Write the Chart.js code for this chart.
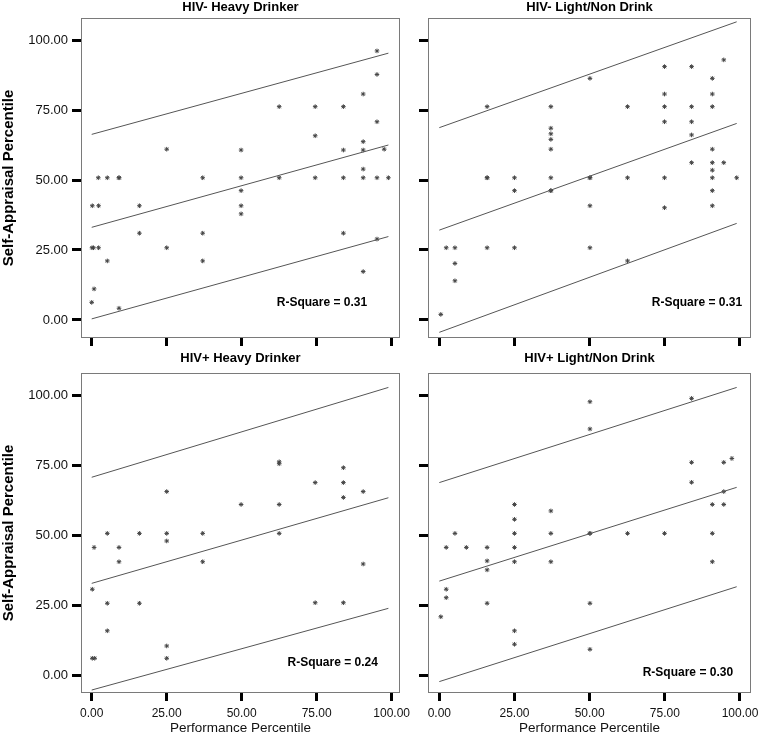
<!DOCTYPE html>
<html>
<head>
<meta charset="utf-8">
<script src="https://cdn.jsdelivr.net/npm/chart.js@4/dist/chart.umd.min.js"></script>
<style>
  body { margin: 0; background: #fff; width: 760px; height: 741px; position: relative; overflow: hidden; }
  canvas { position: absolute; }
</style>
</head>
<body>
<canvas id="p1" width="410" height="352" style="left:0;top:0"></canvas>
<canvas id="p2" width="350" height="352" style="left:410px;top:0"></canvas>
<canvas id="p3" width="410" height="396" style="left:0;top:345px"></canvas>
<canvas id="p4" width="350" height="396" style="left:410px;top:345px"></canvas>
<script>
// axis ticks
const tickVals = [0, 25, 50, 75, 100];

// HIV- Heavy Drinker
const negHeavyX = [25, 2.2, 5.2, 9.1, 9.1, 37, 0.2, 2.3, 15.9, 15.9, 37, 0.1, 0.6, 2.3, 25, 5.2, 37, 0.8, 0, 9.1,
  95.1, 95.1, 90.5, 62.5, 74.5, 83.9, 95.1, 74.5, 49.8, 83.9, 90.5, 90.5, 97.5, 49.8, 62.5, 74.5, 83.9, 90.5,
  95.1, 98.9, 90.5, 49.8, 49.8, 49.8, 83.9, 95.1, 90.5];
const negHeavyY = [61, 50.8, 50.8, 50.8, 50.8, 50.8, 40.8, 40.8, 40.8, 31, 31, 25.8, 25.8, 25.8, 25.8, 21.1, 21.1, 11.1, 6.3, 4.2,
  96.1, 87.7, 80.7, 76.2, 76.2, 76.2, 70.8, 65.8, 60.7, 60.7, 63.7, 60.7, 61, 50.8, 50.8, 50.8, 50.8, 50.8,
  50.8, 50.8, 53.9, 46.2, 40.8, 37.9, 31, 28.9, 17.3];

// HIV- Light/Non Drink
const negLightX = [15.9, 37.1, 37.1, 37.1, 37.1, 37.1, 15.9, 15.9, 25, 37.1, 25, 37.1, 37.1, 2.3, 5.2, 15.9, 25, 5.2, 5.2, 0.5,
  94.6, 74.9, 83.9, 50.1, 90.8, 74.9, 90.8, 62.6, 74.9, 83.9, 90.8, 74.9, 83.9, 83.9, 90.8, 83.9, 90.8, 90.8,
  94.6, 50.1, 50.1, 62.6, 74.9, 90.8, 98.9, 90.8, 50.1, 74.9, 90.8, 50.1, 62.6];
const negLightY = [76.2, 76.2, 68.5, 66.5, 64.5, 61, 50.8, 50.8, 50.8, 50.8, 46.2, 46.2, 46.2, 25.8, 25.8, 25.8, 25.8, 20.2, 14, 2,
  92.9, 90.5, 90.5, 86.3, 86.3, 80.7, 80.7, 76.2, 76.2, 76.2, 76.2, 70.8, 70.8, 66.1, 61, 56.2, 56.2, 53.5,
  56.2, 50.8, 50.8, 50.8, 50.8, 50.8, 50.8, 46.2, 40.8, 40.1, 40.8, 25.8, 21.1];

// HIV+ Heavy Drinker
const posHeavyX = [25, 5.2, 15.9, 25, 37, 25, 0.8, 9.1, 9.1, 37, 0.2, 5.2, 15.9, 5.2, 25, 25, 0.2, 1,
  62.5, 62.5, 83.9, 74.5, 83.9, 90.5, 83.9, 49.8, 62.5, 62.5, 90.5, 74.5, 83.9];
const posHeavyY = [65.6, 50.7, 50.7, 50.7, 50.7, 48, 45.7, 45.7, 40.6, 40.6, 30.8, 25.8, 25.8, 16, 10.6, 6.2, 6.2, 6.2,
  76.2, 75.5, 74.1, 68.8, 68.8, 65.6, 63.5, 61, 61, 50.7, 39.8, 26, 26];

// HIV+ Light/Non Drink
const posLightX = [25, 37.1, 25, 5.2, 25, 37.1, 2.3, 9, 15.9, 25, 15.9, 25, 37.1, 15.9, 2.3, 2.3, 15.9, 0.5, 25, 25,
  50.1, 83.9, 50.1, 83.9, 94.6, 97.3, 83.9, 94.6, 90.8, 94.6, 50.1, 50.1, 62.6, 74.9, 90.8, 90.8, 50.1, 50.1];
const posLightY = [61, 58.7, 55.7, 50.7, 50.7, 50.7, 45.7, 45.7, 45.7, 45.7, 40.9, 40.6, 40.6, 37.7, 30.8, 27.8, 25.8, 21, 16, 11.2,
  97.6, 98.8, 87.9, 76, 76, 77.4, 68.9, 65.6, 61, 61, 50.7, 50.7, 50.7, 50.7, 50.7, 40.6, 25.8, 9.4];

// fitted line and prediction interval, at the ends of the x range
const lineX = [0, 98.9];
const negHeavyFit = [33.1, 62.5], negHeavyUp = [66.3, 95.3], negHeavyLow = [0.4, 29.8];
const negLightFit = [32.1, 70.2], negLightUp = [68.7, 106.5], negLightLow = [-4.4, 34.5];
const posHeavyFit = [32.9, 63.4], posHeavyUp = [70.7, 102.7], posHeavyLow = [-5.1, 24.0];
const posLightFit = [33.7, 67.1], posLightUp = [68.8, 102.7], posLightLow = [-2.1, 31.7];

const panelTitles = ["HIV- Heavy Drinker", "HIV- Light/Non Drink", "HIV+ Heavy Drinker", "HIV+ Light/Non Drink"];
const rSquare = ["0.31", "0.31", "0.24", "0.30"];

const FONT = "'Liberation Sans', Arial, Helvetica, sans-serif";

const pts = (xs, ys) => xs.map((x, i) => ({ x: x, y: ys[i] }));
const line = ys => lineX.map((x, i) => ({ x: x, y: ys[i] }));

const framePlugin = {
  id: "frame",
  afterDraw(chart, args, opts) {
    const { ctx, chartArea: a } = chart;
    ctx.save();
    ctx.strokeStyle = "#7a7a7a";
    ctx.lineWidth = 1;
    ctx.strokeRect(Math.round(a.left) + 0.5, Math.round(a.top) + 0.5,
      Math.round(a.right - a.left) - 1, Math.round(a.bottom - a.top) - 1);
    // panel title
    ctx.fillStyle = "#000";
    ctx.font = "bold 13px " + FONT;
    ctx.textAlign = "center";
    ctx.textBaseline = "middle";
    ctx.fillText(opts.title, (a.left + a.right) / 2, a.top - opts.titleGap);
    // R-square note
    const xs = chart.scales.x, ys = chart.scales.y;
    ctx.font = "bold 12px " + FONT;
    ctx.textAlign = "right";
    ctx.fillText("R-Square = " + opts.r2, xs.getPixelForValue(opts.noteAt[0]), ys.getPixelForValue(opts.noteAt[1]));
    ctx.restore();
  }
};

function noPad(s) {
  s.paddingLeft = 0; s.paddingRight = 0; s.paddingTop = 0; s.paddingBottom = 0;
}

function makePanel(id, cfg) {
  const lineStyle = { type: "line", showLine: true, pointRadius: 0, borderColor: "#555", borderWidth: 1, fill: false };
  new Chart(document.getElementById(id), {
    type: "scatter",
    data: {
      datasets: [
        { ...lineStyle, data: line(cfg.up) },
        { ...lineStyle, data: line(cfg.fit) },
        { ...lineStyle, data: line(cfg.low) },
        {
          data: pts(cfg.xs, cfg.ys),
          pointStyle: "star",
          pointRadius: 2.3,
          borderColor: "#444",
          backgroundColor: "#444",
          borderWidth: 1
        }
      ]
    },
    options: {
      responsive: false,
      animation: false,
      devicePixelRatio: 1,
      layout: { padding: { top: cfg.top, right: cfg.right, left: 0, bottom: 0 } },
      plugins: {
        legend: { display: false },
        tooltip: { enabled: false },
        frame: { title: cfg.title, titleGap: cfg.titleGap, r2: cfg.r2, noteAt: cfg.noteAt }
      },
      scales: {
        x: {
          type: "linear",
          min: cfg.xMin, max: cfg.xMax,
          afterBuildTicks: s => { s.ticks = tickVals.map(v => ({ value: v })); },
          afterFit: s => { s.height = cfg.xHeight; noPad(s); },
          grid: { drawOnChartArea: false, drawTicks: true, tickLength: 8, tickWidth: 3, tickColor: "#000" },
          border: { display: false },
          ticks: {
            padding: 5,
            color: "#111",
            font: { family: FONT, size: 12 },
            maxRotation: 0,
            callback: v => cfg.bottomAxis ? v.toFixed(2) : ""
          },
          title: {
            display: cfg.bottomAxis,
            text: "Performance Percentile",
            color: "#111",
            font: { family: FONT, size: 13.5 },
            padding: { top: 0, bottom: 5 }
          }
        },
        y: {
          type: "linear",
          min: cfg.yMin, max: cfg.yMax,
          afterBuildTicks: s => { s.ticks = tickVals.map(v => ({ value: v })); },
          afterFit: s => { s.width = cfg.yWidth; noPad(s); },
          grid: { drawOnChartArea: false, drawTicks: true, tickLength: 9, tickWidth: 3, tickColor: "#000" },
          border: { display: false },
          ticks: {
            padding: 4,
            color: "#111",
            font: { family: FONT, size: 13 },
            callback: v => cfg.leftAxis ? v.toFixed(2) : ""
          },
          title: {
            display: cfg.leftAxis,
            text: "Self-Appraisal Percentile",
            color: "#000",
            font: { family: FONT, size: 15, weight: "bold" },
            padding: { top: 0, bottom: 0 }
          }
        }
      }
    },
    plugins: [framePlugin]
  });
}

makePanel("p1", {
  title: panelTitles[0], r2: rSquare[0], xs: negHeavyX, ys: negHeavyY,
  fit: negHeavyFit, up: negHeavyUp, low: negHeavyLow,
  xMin: -3.57, xMax: 102.77, yMin: -6.43, yMax: 107.86,
  top: 18, yWidth: 81, xHeight: 14, right: 10, leftAxis: true, bottomAxis: false,
  titleGap: 11, noteAt: [91.8, 6.1]
});
makePanel("p2", {
  title: panelTitles[1], r2: rSquare[1], xs: negLightX, ys: negLightY,
  fit: negLightFit, up: negLightUp, low: negLightLow,
  xMin: -3.76, xMax: 103.66, yMin: -6.43, yMax: 107.86,
  top: 18, yWidth: 18, xHeight: 14, right: 9, leftAxis: false, bottomAxis: false,
  titleGap: 11, noteAt: [100.7, 6.1]
});
makePanel("p3", {
  title: panelTitles[2], r2: rSquare[2], xs: posHeavyX, ys: posHeavyY,
  fit: posHeavyFit, up: posHeavyUp, low: posHeavyLow,
  xMin: -3.57, xMax: 102.77, yMin: -6.16, yMax: 107.84,
  top: 28, yWidth: 81, xHeight: 48, right: 10, leftAxis: true, bottomAxis: true,
  titleGap: 15, noteAt: [95.4, 4.6]
});
makePanel("p4", {
  title: panelTitles[3], r2: rSquare[3], xs: posLightX, ys: posLightY,
  fit: posLightFit, up: posLightUp, low: posLightLow,
  xMin: -3.76, xMax: 103.66, yMin: -6.16, yMax: 107.84,
  top: 28, yWidth: 18, xHeight: 48, right: 9, leftAxis: false, bottomAxis: true,
  titleGap: 15, noteAt: [97.7, 1.0]
});
</script>
</body>
</html>
